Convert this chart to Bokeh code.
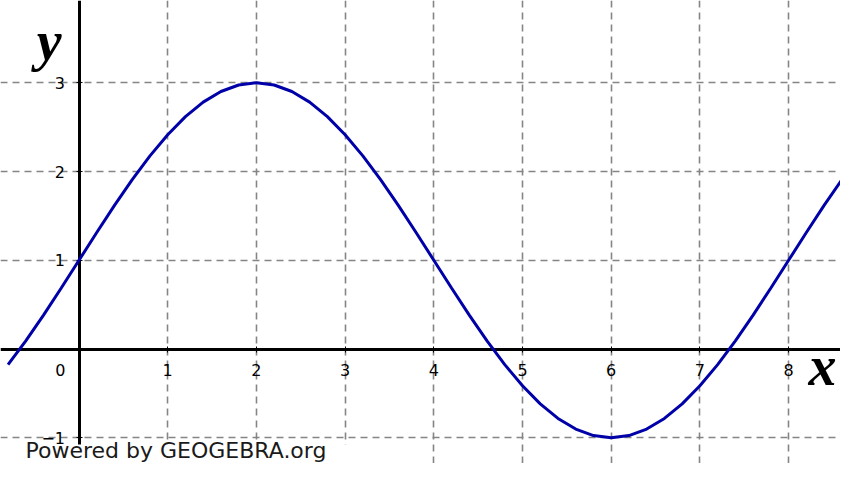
from bokeh.plotting import figure
from bokeh.models import LinearAxis, FixedTicker, Label, BoxAnnotation, Range1d, Grid
from bokeh.embed import file_html
from bokeh.resources import INLINE

# ---- data ----
x_vals = [-0.8, -0.6, -0.4, -0.2, 0.0, 0.2, 0.4, 0.6, 0.8, 1.0, 1.2, 1.4, 1.6, 1.8,
          2.0, 2.2, 2.4, 2.6, 2.8, 3.0, 3.2, 3.4, 3.6, 3.8, 4.0, 4.2, 4.4, 4.6,
          4.8, 5.0, 5.2, 5.4, 5.6, 5.8, 6.0, 6.2, 6.4, 6.6, 6.8, 7.0, 7.2, 7.4,
          7.6, 7.8, 8.0, 8.2, 8.4, 8.6, 8.8]
y_vals = [-0.176, 0.092, 0.382, 0.687, 1.000, 1.313, 1.618, 1.908, 2.176, 2.414,
          2.618, 2.782, 2.902, 2.975, 3.000, 2.975, 2.902, 2.782, 2.618, 2.414,
          2.176, 1.908, 1.618, 1.313, 1.000, 0.687, 0.382, 0.092, -0.176, -0.414,
          -0.618, -0.782, -0.902, -0.975, -1.000, -0.975, -0.902, -0.782, -0.618,
          -0.414, -0.176, 0.092, 0.382, 0.687, 1.000, 1.313, 1.618, 1.908, 2.176]
x_ticks = [1, 2, 3, 4, 5, 6, 7, 8]
y_ticks = [-1, 1, 2, 3]
origin_label = "0"
x_name = "x"
y_name = "y"
credit = "Powered by GEOGEBRA.org"

p = figure(width=840, height=463, output_backend="svg", toolbar_location=None,
           x_range=Range1d(-0.885, 8.585), y_range=Range1d(-1.290, 3.927),
           x_axis_location=None, y_axis_location=None, min_border=0)
p.outline_line_color = None
p.background_fill_color = "white"
p.border_fill_color = "white"
p.center = []

for dim, ticks in ((0, x_ticks), (1, y_ticks)):
    g = Grid(dimension=dim, ticker=FixedTicker(ticks=ticks))
    g.grid_line_color = "#858585"
    g.grid_line_width = 1.6
    g.grid_line_dash = "7 5"
    p.add_layout(g, "center")

def style_axis(ax):
    ax.axis_line_color = "black"
    ax.axis_line_width = 3
    ax.major_tick_line_color = "black"
    ax.major_tick_line_width = 1
    ax.major_tick_in = 3
    ax.major_tick_out = 3
    ax.minor_tick_line_color = None
    ax.major_label_text_font = "DejaVu Sans"
    ax.major_label_text_font_size = "16px"
    ax.major_label_text_color = "black"

xaxis = LinearAxis(fixed_location=0, ticker=FixedTicker(ticks=x_ticks))
style_axis(xaxis)
xaxis.major_label_standoff = 12
p.add_layout(xaxis, "below")

yaxis = LinearAxis(fixed_location=0, ticker=FixedTicker(ticks=y_ticks))
style_axis(yaxis)
yaxis.major_label_standoff = 11
p.add_layout(yaxis, "left")

p.line(x_vals, y_vals, line_color="#0000a8", line_width=3, level="overlay")

p.add_layout(BoxAnnotation(left=-1.0, right=3.23, bottom=-2.0, top=-1.076,
                           fill_color="white", fill_alpha=1.0, line_color=None))

p.add_layout(Label(x=-0.209, y=-0.242, text=origin_label, text_font="DejaVu Sans",
                   text_font_size="16px", text_align="center", text_baseline="middle",
                   text_color="black"))
p.add_layout(Label(x=-0.335, y=3.47, text=y_name, text_font="Liberation Serif",
                   text_font_style="bold italic", text_font_size="56px", text_align="center",
                   text_baseline="alphabetic", text_color="black"))
p.add_layout(Label(x=8.382, y=-0.186, text=x_name, text_font="Liberation Serif",
                   text_font_style="bold italic", text_font_size="56px", text_align="center",
                   text_baseline="alphabetic", text_color="black"))
p.add_layout(Label(x=-0.603, y=-1.138, text=credit, text_font="DejaVu Sans",
                   text_font_size="22px", text_align="left", text_baseline="alphabetic",
                   text_color="#1a1a1a"))

open("out.html", "w").write(file_html(p, INLINE))
